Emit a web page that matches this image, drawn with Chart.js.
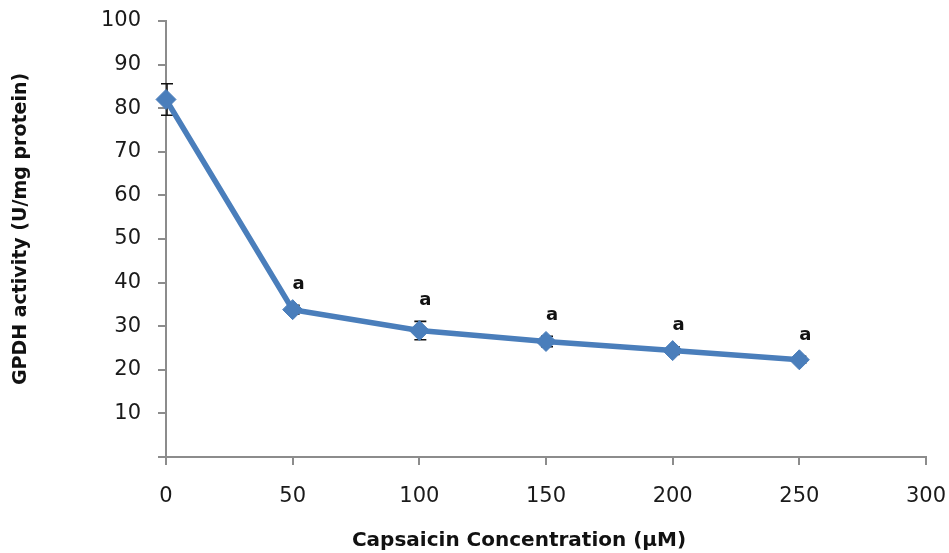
<!DOCTYPE html>
<html>
<head>
<meta charset="utf-8">
<script src="https://cdn.jsdelivr.net/npm/chart.js@4/dist/chart.umd.min.js"></script>
<style>
  body { margin: 0; background: #fff; }
  #wrap { width: 949px; height: 553px; }
</style>
</head>
<body>
<div id="wrap"><canvas id="grafico" width="949" height="553"></canvas></div>
<script>
// concentraciones (µM) y actividad GPDH
const concentraciones = [0, 50, 100, 150, 200, 250];
const actividad = [82.0, 33.8, 29.0, 26.5, 24.4, 22.3];
const errores = [3.6, 1.0, 2.1, 1.2, 0.9, 0.8];
const letras = ["", "a", "a", "a", "a", "a"];
const ticksX = [0, 50, 100, 150, 200, 250, 300];
const ticksY = [0, 10, 20, 30, 40, 50, 60, 70, 80, 90, 100];

const azul = "#4A7EBB";
const gris = "#8C8C8C";

// barras de error + letras + titulos de ejes
const extras = {
  id: "extras",
  beforeDatasetsDraw(chart) {
    const { ctx, scales: { x, y } } = chart;
    ctx.save();
    ctx.strokeStyle = "#111";
    ctx.lineWidth = 1.6;
    concentraciones.forEach((c, i) => {
      const px = x.getPixelForValue(c) + 1;
      const top = y.getPixelForValue(actividad[i] + errores[i]);
      const bot = y.getPixelForValue(actividad[i] - errores[i]);
      ctx.beginPath();
      ctx.moveTo(px, top); ctx.lineTo(px, bot);
      ctx.moveTo(px - 6, top); ctx.lineTo(px + 6, top);
      ctx.moveTo(px - 6, bot); ctx.lineTo(px + 6, bot);
      ctx.stroke();
    });
    ctx.restore();
  },
  afterDraw(chart) {
    const { ctx, scales: { x, y } } = chart;
    ctx.save();
    ctx.fillStyle = "#111";
    ctx.font = "bold 18px 'DejaVu Sans'";
    ctx.textAlign = "center";
    ctx.textBaseline = "middle";
    concentraciones.forEach((c, i) => {
      if (!letras[i]) return;
      const px = x.getPixelForValue(c) + 6;
      const py = y.getPixelForValue(actividad[i] + errores[i]) - 21;
      ctx.fillText(letras[i], px, py);
    });

    ctx.font = "bold 20px 'DejaVu Sans'";
    ctx.fillText("Capsaicin Concentration (µM)", 519, 541);
    ctx.font = "bold 19px 'DejaVu Sans'";
    ctx.translate(21, 229);
    ctx.rotate(-Math.PI / 2);
    ctx.fillText("GPDH activity (U/mg protein)", 0, 0);
    ctx.restore();
  }
};

new Chart(document.getElementById("grafico").getContext("2d"), {
  type: "line",
  data: {
    datasets: [{
      data: concentraciones.map((c, i) => ({ x: c, y: actividad[i] })),
      borderColor: azul,
      backgroundColor: azul,
      borderWidth: 5.5,
      pointStyle: "rectRot",
      pointRadius: 10,
      pointBorderWidth: 1,
      pointBorderColor: azul,
      pointBackgroundColor: azul,
      tension: 0,
      clip: false
    }]
  },
  options: {
    responsive: false,
    animation: false,
    layout: { padding: { left: 0, top: 21, right: 23, bottom: 0 } },
    plugins: { legend: { display: false }, tooltip: { enabled: false } },
    scales: {
      x: {
        type: "linear",
        min: 0, max: 300,
        afterBuildTicks: (s) => { s.ticks = ticksX.map(v => ({ value: v })); },
        afterFit: (s) => { s.height = 96; s.paddingLeft = 0; s.paddingRight = 0; },
        grid: { display: true, drawOnChartArea: false, drawTicks: true, tickLength: 8, color: gris, lineWidth: 2 },
        border: { display: true, color: gris, width: 2 },
        ticks: { color: "#1a1a1a", font: { family: "DejaVu Sans", size: 21 }, padding: 19, maxRotation: 0 }
      },
      y: {
        min: 0, max: 100,
        afterBuildTicks: (s) => { s.ticks = ticksY.map(v => ({ value: v })); },
        afterFit: (s) => { s.width = 166; s.paddingTop = 0; s.paddingBottom = 0; },
        grid: { display: true, drawOnChartArea: false, drawTicks: true, tickLength: 8, color: gris, lineWidth: 2 },
        border: { display: true, color: gris, width: 2 },
        ticks: {
          color: "#1a1a1a",
          font: { family: "DejaVu Sans", size: 21 },
          padding: 17,
          callback: (v) => v === 0 ? "" : v
        }
      }
    }
  },
  plugins: [extras]
});
</script>
</body>
</html>
